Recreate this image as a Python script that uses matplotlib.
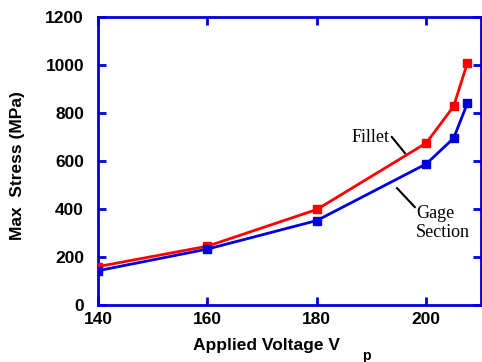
import matplotlib
matplotlib.use('Agg')
import matplotlib.pyplot as plt

# data
voltage = [140, 160, 180, 200, 205, 207.5]
fillet = [160, 245, 398, 675, 828, 1008]
gage = [143, 233, 352, 588, 695, 840]

x_ticks = [140, 160, 180, 200]
y_ticks = [0, 200, 400, 600, 800, 1000, 1200]

blue = '#0000dd'
red = '#ff0000'

plt.rcParams['font.family'] = ['Liberation Sans', 'DejaVu Sans']

fig = plt.figure(figsize=(4.82, 3.62), dpi=100)
ax = fig.add_axes([98 / 482, 57 / 362, 383 / 482, 288 / 362])

ax.plot(voltage, fillet, color=red, lw=2, marker='s', ms=6, zorder=3)
ax.plot(voltage, gage, color=blue, lw=2, marker='s', ms=6, zorder=3)

ax.set_xlim(140, 210)
ax.set_ylim(0, 1200)
ax.set_xticks(x_ticks)
ax.set_yticks(y_ticks)

for s in ax.spines.values():
    s.set_color(blue)
    s.set_linewidth(2)
ax.tick_params(direction='in', length=6, width=2, color=blue,
               top=True, right=True, labelsize=12.5)
ax.tick_params(axis='y', pad=10)
ax.tick_params(axis='x', pad=5)
for lab in ax.get_xticklabels() + ax.get_yticklabels():
    lab.set_fontweight('bold')

ax.set_ylabel('Max  Stress (MPa)', fontsize=12.5, fontweight='bold', va='center')
ax.yaxis.set_label_coords(-0.211, 0.483)
ax.set_xlabel('Applied Voltage V', fontsize=12.5, fontweight='bold', va='center')
ax.xaxis.set_label_coords(0.439, -0.139)
fig.text(366 / 482, 1 - 360 / 362, 'p', fontsize=10, fontweight='bold',
         ha='center', va='baseline')

# annotations
ax.text(193.2, 700, 'Fillet', family=['Liberation Serif'], fontsize=13,
        ha='right', va='center')
ax.plot([193.7, 196.1], [700, 633], color='black', lw=1.5)
ax.text(198.1, 340, 'Gage\nSection', family=['Liberation Serif'], fontsize=13,
        ha='left', va='center', linespacing=1.15)
ax.plot([194.65, 197.9], [487, 408], color='black', lw=1.5)

fig.savefig('out.png', dpi=100)
